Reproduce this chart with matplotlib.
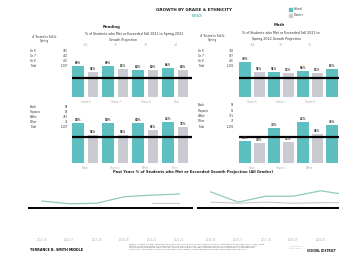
import numpy as np
import matplotlib
matplotlib.use("Agg")
import matplotlib.pyplot as plt
from matplotlib.patches import Rectangle

W, H = 339, 257

# bar data (% met or exceeded growth projection)
grades = ["Grade 6", "Grade 7", "Grade 8", "Total"]
read_grade_school = [69, 69, 60, 64]
read_grade_district = [56, 62, 60, 60]
math_grade_school = [78, 56, 58, 62]
math_grade_district = [56, 53, 53, 55]
grade_target = 42

groups = ["Black", "Hispanic", "White", "Other"]
read_eth_school = [80, 80, 80, 82]
read_eth_district = [56, 56, 66, 72]
math_eth_school = [44, 70, 82, 76]
math_eth_district = [40, 42, 58, 60]
eth_target = 52

# tested counts
tab_grade_labels = ["Gr 6", "Gr 7", "Gr 8", "Total"]
read_grade_n = ["395", "402", "410", "1,207"]
math_grade_n = ["378", "397", "416", "1,191"]
tab_eth_labels = ["Black", "Hispanic", "White", "Other", "Total"]
read_eth_n = ["58", "94", "783", "72", "1,207"]
math_eth_n = ["55", "92", "771", "73", "1,191"]

# history
years = ["2015-16", "2016-17", "2017-18", "2018-19", "2020-21", "2021-22"]
read_hist_school = [61, 56, 57, 69, 72, 74]
read_hist_district = [np.nan, np.nan, np.nan, np.nan, 57, 57]
math_hist_school = [78, 59, 70, 70, 80, 72]
math_hist_district = [59, 57, 59, 57, 58, 58]
hist_target = 48

TEAL = "#5ebfc0"
GRAY = "#cacad2"
LTEAL = "#8fcbc0"
TXT = "#333333"


def box(x0, y0, x1, y1):
    return [x0 / W, 1 - y1 / H, (x1 - x0) / W, (y1 - y0) / H]


def ftext(x, y, s, **kw):
    fig.text(x / W, 1 - y / H, s, **kw)


fig = plt.figure(figsize=(W / 100, H / 100), dpi=100)


def bars(x0, y0, y1, school, district, target, labels, top_labels=True,
         step=30):
    ax = fig.add_axes(box(x0, y0, x0 + 4 * step, y1))
    idx = np.arange(len(school))
    ax.bar(idx, school, width=0.42, color=TEAL)
    ax.bar(idx + 0.5, district, width=0.36, color=GRAY)
    ax.axhline(target, color="black", lw=1.6)
    # page is cropped on the right: skip labels that fall past the edge
    px = lambda v: x0 + (v + 0.2) * step
    for i in idx:
        if px(i) + 5 < W:
            ax.text(i, school[i] + 2, f"{school[i]}%", ha="center",
                    va="bottom", fontsize=1.9, fontweight="bold", color=TXT)
        if px(i + 0.5) + 5 < W:
            ax.text(i + 0.5, district[i] + 2, f"{district[i]}%", ha="center",
                    va="bottom", fontsize=1.9, fontweight="bold", color=TXT)
        if top_labels and px(i + 0.25) + 4 < W:
            d = school[i] - district[i]
            ax.text(i + 0.25, 112, f"{d:+d}", ha="center", va="bottom",
                    fontsize=1.8, color="#999999")
    ax.set_xlim(-0.2, 3.8)
    ax.set_ylim(0, 100)
    keep = [i for i in idx if px(i + 0.25) + 8 < W]
    ax.set_xticks(np.array(keep) + 0.25)
    ax.set_xticklabels([labels[i] for i in keep], fontsize=1.8,
                       color="#aaaaaa")
    ax.tick_params(length=0, pad=2)
    ax.set_yticks([])
    for s in ax.spines.values():
        s.set_visible(False)
    ax.patch.set_alpha(0)
    return ax


bars(72, 52, 97, read_grade_school, read_grade_district, grade_target, grades)
bars(239, 52, 97, math_grade_school, math_grade_district, grade_target,
     grades, step=29)
bars(72, 113, 163, read_eth_school, read_eth_district, eth_target, groups,
     False)
bars(239, 113, 163, math_eth_school, math_eth_district, eth_target, groups,
     False, step=29)


def table(xl, xr, ys, labels, vals):
    for y, l, v in zip(ys, labels, vals):
        ftext(xl, y, l, fontsize=1.9, color=TXT, va="center", ha="left")
        ftext(xr, y, v, fontsize=1.9, color=TXT, va="center", ha="right")


table(30, 68, [51, 56, 61, 66], tab_grade_labels, read_grade_n)
table(198, 234, [51, 56, 61, 66], tab_grade_labels, math_grade_n)
table(30, 68, [107, 112, 117, 122, 127], tab_eth_labels, read_eth_n)
table(198, 234, [105, 111, 116, 121, 127], tab_eth_labels, math_eth_n)
ftext(44, 39, "# Tested in Fall &\nSpring", fontsize=2.1, color=TXT,
      ha="center", va="center", linespacing=1.3)
ftext(212, 38, "# Tested in Fall &\nSpring", fontsize=2.1, color=TXT,
      ha="center", va="center", linespacing=1.3)

# headers
ftext(194, 10, "GROWTH BY GRADE & ETHNICITY", fontsize=3, fontweight="bold",
      ha="center", va="center", color="#222222")
ftext(197, 16, "(WSD)", fontsize=2.6, style="italic", ha="center",
      va="center", color="#2f9e9e")
ftext(112, 27, "Reading", fontsize=2.8, fontweight="bold", ha="center",
      va="center", color="#222222")
ftext(279, 25, "Math", fontsize=2.8, fontweight="bold", ha="center",
      va="center", color="#222222")
sub = "% of Students who Met or Exceeded Fall 2021 to Spring 2022"
ftext(134, 34, sub, fontsize=2.3, ha="center", va="center", color=TXT)
ftext(123, 40, "Growth Projection", fontsize=2.3, ha="center", va="center",
      color=TXT)
ftext(242, 33, "% of Students who Met or Exceeded Fall 2021 to",
      fontsize=2.3, ha="left", va="center", color=TXT)
ftext(252, 39, "Spring 2022 Growth Projection", fontsize=2.3, ha="left",
      va="center", color=TXT)

# legend
for y, c, l in [(9, TEAL, "School"), (15, GRAY, "District")]:
    fig.patches.append(Rectangle((289 / W, 1 - (y + 1.5) / H), 3 / W, 3 / H,
                                 color=c, transform=fig.transFigure))
    ftext(294, y, l, fontsize=2, va="center", color=TXT)

# history lines
ftext(193, 172, "Past Years % of Students who Met or Exceeded Growth "
      "Projection (All Grades)", fontsize=2.6, fontweight="bold",
      ha="center", va="center", color="#222222")
for x0, sch, dis in [(28, read_hist_school, read_hist_district),
                     (197, math_hist_school, math_hist_district)]:
    ax = fig.add_axes(box(x0, 180, x0 + 165, 234))
    xs = np.arange(len(years))
    ax.plot(xs, sch, color=LTEAL, lw=0.9)
    ax.plot(xs, dis, color="#c9c9c9", lw=0.8)
    ax.axhline(hist_target, color="black", lw=1.4)
    ax.set_xlim(-0.5, 5.5)
    ax.set_ylim(0, 100)
    vis = [i for i in xs if x0 + (i + 0.5) * 27.5 + 9 < W]
    ax.set_xticks(vis)
    ax.set_xticklabels([years[i] for i in vis], fontsize=1.8,
                       color="#aaaaaa")
    ax.tick_params(length=0, pad=3)
    ax.set_yticks([])
    for s in ax.spines.values():
        s.set_visible(False)
    ax.patch.set_alpha(0)

# footer
ftext(30, 250, "TERRANCE B. SMITH MIDDLE", fontsize=2.4, fontweight="bold",
      va="center", color="#111111")
notes = ("Notes: Growth is measured from the Fall 2021 to the Spring 2022 administration. Students are included only if they were\n"
         "tested in both windows and remained enrolled at the school. The growth projection is based on the student's prior\n"
         "performance and grade level. Percent met is the share of students whose spring score reached or exceeded the\n"
         "projection. The black line marks the district benchmark. Small groups should be interpreted with caution.")
ftext(129, 247, notes, fontsize=1.6, va="center", color="#666666",
      linespacing=1.25)
ftext(289, 247.5, "Accountability\n& Research", fontsize=1.6, va="center",
      color="#8fc7c0", linespacing=1.3)
ftext(307, 251, "SCHOOL DISTRICT", fontsize=2.1, fontweight="bold",
      va="center", color="#111111")

fig.savefig("out.png", dpi=100)
